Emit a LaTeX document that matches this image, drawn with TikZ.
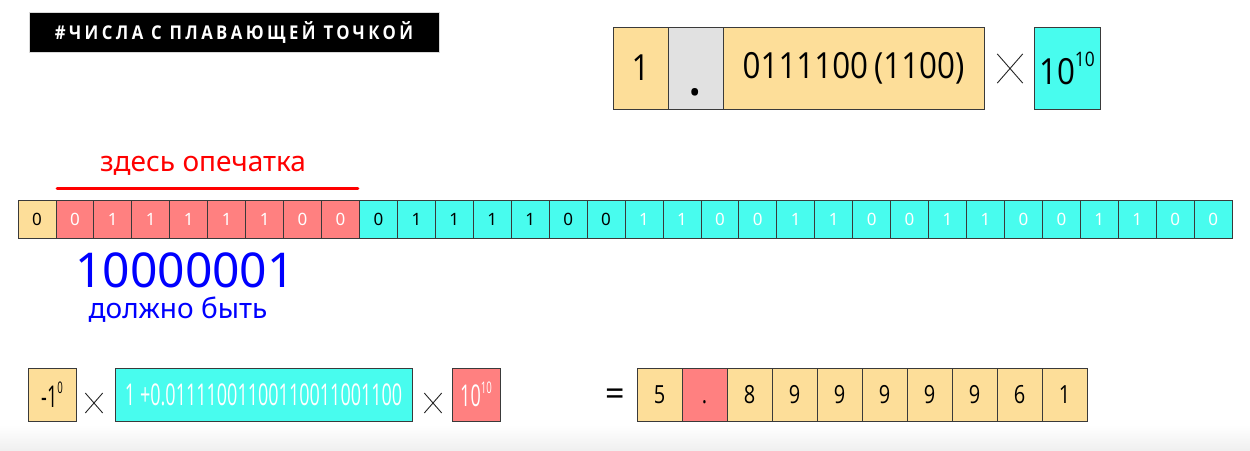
\documentclass[tikz,border=0pt]{standalone}
\usepackage{fontspec}
\setmainfont{Noto Sans}
\newfontfamily\topfont[FakeStretch=0.87]{Open Sans}
\newfontfamily\formfont[FakeStretch=0.6]{Open Sans}
\newfontfamily\resfont[FakeStretch=0.8]{Open Sans}
\newfontfamily\titlefont[LetterSpace=18,FakeStretch=0.88]{Open Sans}
\definecolor{yelc}{HTML}{FDDE99}
\definecolor{redc}{HTML}{FF8080}
\definecolor{cyac}{HTML}{48FCEE}
\definecolor{grac}{HTML}{E1E1E1}
\definecolor{edgec}{HTML}{3A3A3A}
\begin{document}
\begin{tikzpicture}[x=1pt,y=-1pt,
  cell/.style={draw=edgec, line width=0.8pt, inner sep=0pt, minimum height=38, minimum width=37.94,
    font=\fontsize{17}{17}\selectfont},
  bigcell/.style={draw=edgec, line width=0.8pt, inner sep=0pt, minimum height=82,
    font=\topfont\fontsize{36}{36}\selectfont},
  lowcell/.style={draw=edgec, line width=0.8pt, inner sep=0pt, minimum height=53,
    font=\formfont\fontsize{30}{30}\selectfont},
  rescell/.style={draw=edgec, line width=0.8pt, inner sep=0pt, minimum height=53, minimum width=45,
    text height=18pt, text depth=0pt, font=\resfont\fontsize{25}{25}\selectfont},
  crossbox/.style={inner sep=0pt, minimum width=#1, minimum height=1.15*#1},
  crossline/.style={line width=0.9pt, black!85},
]
\useasboundingbox (0,0) rectangle (1250,450);
\shade[top color=white, bottom color=black!6] (0,425) rectangle (1250,450);

% title
\node[fill=black, draw=black!15, line width=1pt, minimum width=410, minimum height=40, inner sep=0pt,
  text=white, font=\titlefont\bfseries\fontsize{19}{19}\selectfont] (title) at (234,32)
  {\#ЧИСЛА С ПЛАВАЮЩЕЙ ТОЧКОЙ};

% top right
\node[bigcell, fill=yelc, minimum width=55] (t1) at (640.5,68) {1};
\node[bigcell, fill=grac, minimum width=55, text height=54pt, text depth=0pt] (tdot) at (695.5,68) {\bfseries\fontsize{46}{46}\selectfont .};
\node[bigcell, fill=yelc, minimum width=261] (tm) at (853.5,68) {0111100\,(1100)};
\node[crossbox=25] (tx) at (1010,68.5) {};
\draw[crossline] (tx.north west) -- (tx.south east) (tx.north east) -- (tx.south west);
\node[bigcell, fill=cyac, minimum width=66] (te) at (1067,68) {10\raisebox{0.5em}{\fontsize{20}{20}\selectfont 10}};

% typo note
\node[text=red, inner sep=0pt, font=\fontsize{28}{28}\selectfont] (typo) at (203,166) {здесь опечатка};
\coordinate (ulA) at (57,188.5);
\coordinate (ulB) at (358,188.5);
\draw[red, line width=2.6pt, line cap=round] (ulA) -- (ulB);

% bit row
\node[cell, fill=yelc] (b0) at ({18+37.94*0.5},219) {0};
\foreach \b [count=\i from 1] in {0,1,1,1,1,1,0,0}
  \node[cell, fill=redc, text=white] (b\i) at ({18+37.94*(\i+0.5)},219) {\b};
\foreach \b [count=\i from 9] in {0,1,1,1,1,0,0}
  \node[cell, fill=cyac] (b\i) at ({18+37.94*(\i+0.5)},219) {\b};
\foreach \b [count=\i from 16] in {1,1,0,0,1,1,0,0,1,1,0,0,1,1,0,0}
  \node[cell, fill=cyac, text=white] (b\i) at ({18+37.94*(\i+0.5)},219) {\b};

% correction
\node[text=blue, inner sep=0pt, text height=35pt, text depth=0pt, font=\fontsize{48}{48}\selectfont] (should) at (185,270) {10000001};
\node[text=blue, inner sep=0pt, font=\fontsize{28}{28}\selectfont] (must) at (178,310) {должно быть};

% bottom formula
\node[lowcell, fill=yelc, minimum width=48] (s) at (52,394.5) {-1\raisebox{0.45em}{\fontsize{16}{16}\selectfont 0}};
\node[crossbox=17] (x1) at (94,403) {};
\draw[crossline] (x1.north west) -- (x1.south east) (x1.north east) -- (x1.south west);
\node[lowcell, fill=cyac, minimum width=297, text=white] (m) at (263.5,394.5) {1\,+0.01111001100110011001100};
\node[crossbox=17] (x2) at (433,403) {};
\draw[crossline] (x2.north west) -- (x2.south east) (x2.north east) -- (x2.south west);
\node[lowcell, fill=redc, minimum width=48, text=white] (e) at (476,394.5) {10\raisebox{0.45em}{\fontsize{16}{16}\selectfont 10}};
\node[inner sep=0pt, font=\bfseries\fontsize{34}{34}\selectfont] (eq) at (615,397) {=};
\foreach \d [count=\i from 0] in {5,.,8,9,9,9,9,9,6,1} {
  \ifnum\i=1
    \node[rescell, fill=redc] (r\i) at ({637+45*(\i+0.5)},394.5) {\d};
  \else
    \node[rescell, fill=yelc] (r\i) at ({637+45*(\i+0.5)},394.5) {\d};
  \fi
}
\end{tikzpicture}
\end{document}
